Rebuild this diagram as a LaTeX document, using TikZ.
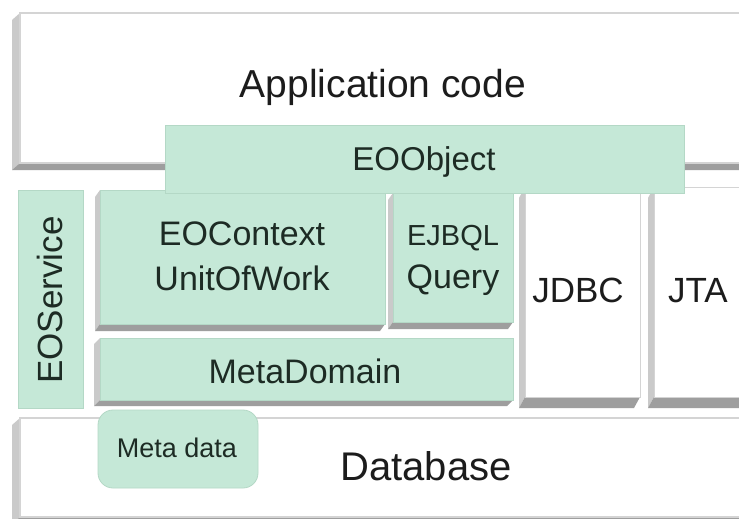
\documentclass[tikz,border=0pt]{standalone}
\usepackage{fontspec}
\setmainfont{Liberation Sans}
\usetikzlibrary{calc,backgrounds}
\definecolor{mint}{HTML}{C5E8D7}
\definecolor{mintedge}{HTML}{B4D8C6}
\definecolor{shdark}{HTML}{9E9E9E}
\definecolor{shlight}{HTML}{CACACA}
\definecolor{faceedge}{HTML}{D4D4D4}
\definecolor{ink}{HTML}{1C1C1C}
\definecolor{inkg}{HTML}{1D2B24}
\newcommand\mkslab[3]{%
  \fill[shlight] (#1.north west) -- ++(#2,#3) -- ($(#1.south west)+(#2,#3)$) -- (#1.south west) -- cycle;
  \fill[shdark] (#1.south west) -- ++(#2,#3) -- ($(#1.south east)+(#2,#3)$) -- (#1.south east) -- cycle;
}
\tikzset{
  face/.style={draw=faceedge, line width=0.8pt, fill=white, inner sep=0pt, outer sep=0pt, anchor=north west},
  greenbox/.style={face, fill=mint, draw=mintedge},
  lbl/.style={inner sep=0pt, anchor=base, text=ink},
  glbl/.style={lbl, text=inkg},
}
\begin{document}
\begin{tikzpicture}[x=1pt, y=-1pt]
\useasboundingbox (0,0) rectangle (739,519);
% faces
\node[face, line width=2.2pt, minimum width=740pt, minimum height=150pt] (app) at (20,13) {};
\node[face, line width=1.6pt, minimum width=740pt, minimum height=99pt] (db) at (20,418) {};
\node[face, minimum width=115pt, minimum height=210pt] (jdbc) at (525,187) {};
\node[face, minimum width=110pt, minimum height=210pt] (jta) at (654,187) {};
\node[greenbox, minimum width=65pt, minimum height=218pt] (svc) at (18,190) {};
\node[greenbox, minimum width=285pt, minimum height=134pt] (ctx) at (100,190) {};
\node[greenbox, minimum width=120pt, minimum height=129pt] (qry) at (393,193) {};
\node[greenbox, minimum width=413pt, minimum height=62pt] (md) at (100,338) {};
\node[greenbox, minimum width=519pt, minimum height=68pt] (obj) at (165,125) {};
\node[greenbox, rounded corners=15pt, minimum width=160pt, minimum height=78pt] (meta) at (98,410) {};
% shadows
\begin{scope}[on background layer]
\fill[white] (0,0) rectangle (739,519);
\mkslab{app}{-8}{7}
\mkslab{db}{-8}{7}
\mkslab{jdbc}{-6}{11}
\mkslab{jta}{-6}{11}
\mkslab{ctx}{-5}{7}
\mkslab{qry}{-5}{7}
\mkslab{md}{-6}{6}
\end{scope}
% texts
\node[lbl, font=\fontsize{39}{46}\selectfont] (tapp) at (383,97) {Application code};
\node[lbl, font=\fontsize{40}{48}\selectfont] (tdb) at (426,480) {Database};
\node[glbl, font=\fontsize{33}{40}\selectfont] (tobj) at (424,170) {EOObject};
\node[glbl, rotate=90, font=\fontsize{35}{42}\selectfont] (tsvc) at (62,300) {EOService};
\node[glbl, font=\fontsize{34}{40}\selectfont] (tctx1) at (242,245) {EOContext};
\node[glbl, font=\fontsize{34}{40}\selectfont] (tctx2) at (242,290) {UnitOfWork};
\node[glbl, font=\fontsize{29}{35}\selectfont] (tq1) at (453,245) {EJBQL};
\node[glbl, font=\fontsize{34}{40}\selectfont] (tq2) at (453,288) {Query};
\node[lbl, font=\fontsize{35}{42}\selectfont] (tjdbc) at (578,302) {JDBC};
\node[lbl, font=\fontsize{35}{42}\selectfont] (tjta) at (698,302) {JTA};
\node[glbl, font=\fontsize{34}{40}\selectfont] (tmd) at (305,383) {MetaDomain};
\node[glbl, font=\fontsize{27}{32}\selectfont] (tmeta) at (177,457) {Meta data};
\end{tikzpicture}
\end{document}
